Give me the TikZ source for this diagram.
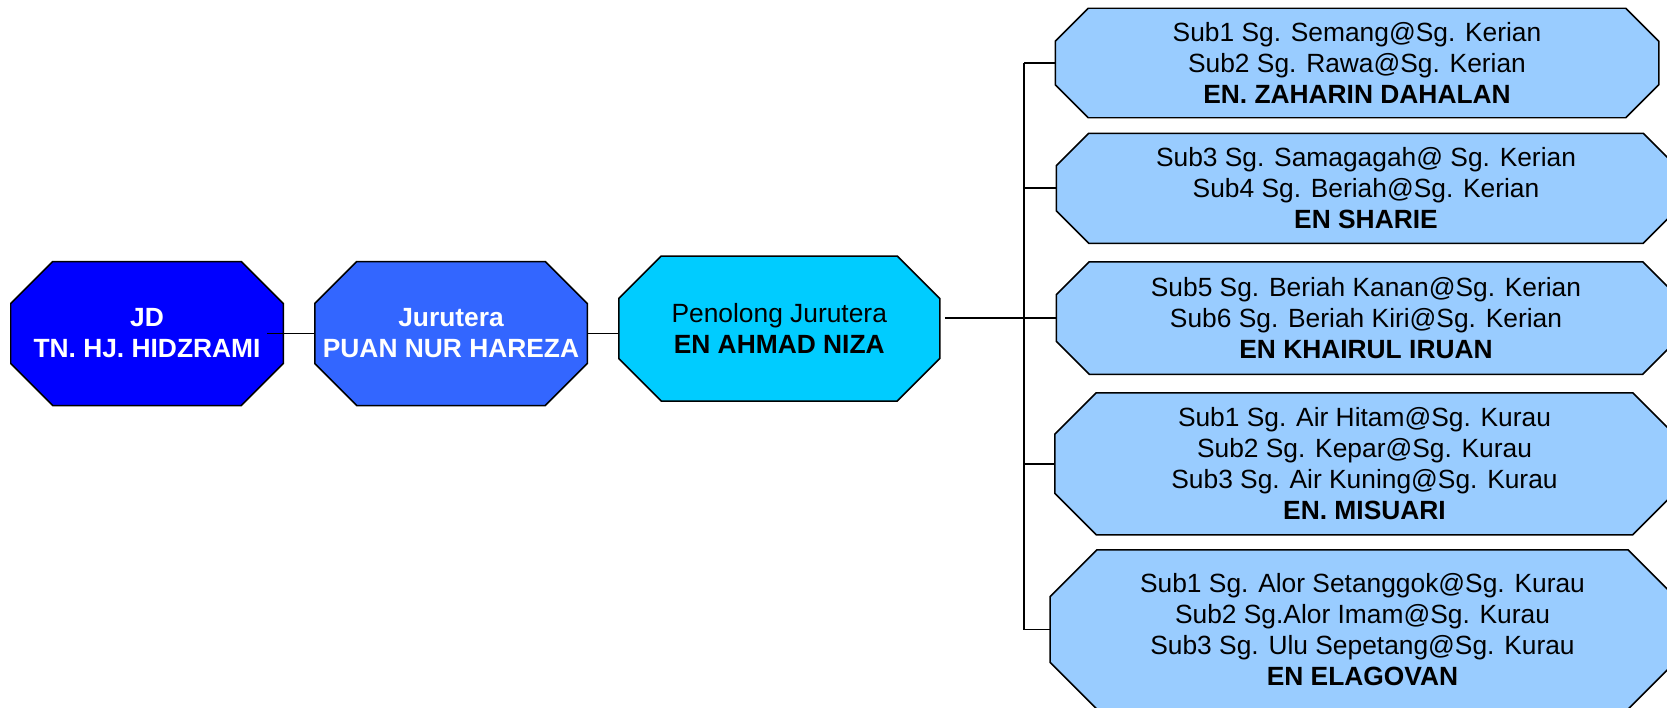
\documentclass[tikz,border=0pt]{standalone}
\usepackage{fontspec}
\setsansfont{Liberation Sans}
\usetikzlibrary{positioning}
\usetikzlibrary{backgrounds}
\definecolor{jdblue}{HTML}{0000FF}
\definecolor{jurblue}{HTML}{3366FF}
\definecolor{pjblue}{HTML}{00CCFF}
\definecolor{subblue}{HTML}{99CCFF}

\begin{document}
\begin{tikzpicture}[draw=black, line width=1.1pt, node distance=0.63cm, font=\sffamily\fontsize{15}{17.6}\selectfont]
    \tikzstyle{octa}=[rectangle, align=center, inner sep=0pt, outer sep=0pt]
    \tikzstyle{lead}=[octa, minimum width=5.45cm, minimum height=2.88cm, text=white, font=\sffamily\bfseries\fontsize{15}{17.6}\selectfont]
    \tikzstyle{sub}=[octa, minimum width=12.39cm]

    \useasboundingbox (0,0) rectangle (33.34,-14.14);

    \node[lead] (JD) at (2.94,-6.67) {JD\\TN. HJ. HIDZRAMI};
    \node[lead, right=of JD] (Jur) {Jurutera\\PUAN NUR HAREZA};
    \node[octa, minimum width=6.42cm, minimum height=2.9cm, right=0.63cm of Jur, yshift=0.1cm] (PJ) {Penolong Jurutera\\\textbf{EN AHMAD NIZA}};

    \node[sub, minimum width=12.07cm, minimum height=2.19cm] (Zah) at (27.14,-1.26) {Sub1 Sg. Semang@Sg. Kerian\\Sub2 Sg. Rawa@Sg. Kerian\\\textbf{EN. ZAHARIN DAHALAN}};
    \node[sub, minimum height=2.2cm, below=0.31cm of Zah, xshift=0.18cm] (Sha) {Sub3 Sg. Samagagah@ Sg. Kerian\\Sub4 Sg. Beriah@Sg. Kerian\\\textbf{EN SHARIE}};
    \node[sub, minimum height=2.25cm, below=0.37cm of Sha] (Kha) {Sub5 Sg. Beriah Kanan@Sg. Kerian\\Sub6 Sg. Beriah Kiri@Sg. Kerian\\\textbf{EN KHAIRUL IRUAN}};
    \node[sub, minimum height=2.84cm, below=0.37cm of Kha, xshift=-0.03cm] (Mis) {Sub1 Sg. Air Hitam@Sg. Kurau\\Sub2 Sg. Kepar@Sg. Kurau\\Sub3 Sg. Air Kuning@Sg. Kurau\\\textbf{EN. MISUARI}};
    \node[sub, minimum width=12.5cm, minimum height=3.19cm, below=0.3cm of Mis, xshift=-0.04cm] (Ela) {Sub1 Sg. Alor Setanggok@Sg. Kurau\\Sub2 Sg.Alor Imam@Sg. Kurau\\Sub3 Sg. Ulu Sepetang@Sg. Kurau\\\textbf{EN ELAGOVAN}};
    \coordinate (bus) at (20.48,0);

    % octagon outlines behind the text
    \begin{scope}[on background layer]
        \foreach \n/\c/\col in {JD/0.84/jdblue, Jur/0.84/jurblue, PJ/0.85/pjblue, Zah/0.66/subblue, Sha/0.65/subblue, Kha/0.66/subblue, Mis/0.83/subblue, Ela/0.94/subblue}
            \filldraw[fill=\col, line width=0.85pt] ([xshift=\c cm]\n.north west) -- ([xshift=-\c cm]\n.north east) -- ([yshift=-\c cm]\n.north east) -- ([yshift=\c cm]\n.south east) -- ([xshift=-\c cm]\n.south east) -- ([xshift=\c cm]\n.south west) -- ([yshift=\c cm]\n.south west) -- ([yshift=-\c cm]\n.north west) -- cycle;
    \end{scope}

    \draw ([xshift=-0.32cm]JD.east) -- (Jur.west);
    \draw (Jur.east) -- (Jur.east -| PJ.west);
    \draw ([xshift=0.1cm]PJ.east |- Kha.west) -- (Kha.west);
    \draw (Zah.west -| bus) -- (Ela.west -| bus);
    \foreach \b in {Zah,Sha,Mis,Ela}
        \draw (\b.west -| bus) -- (\b.west);
\end{tikzpicture}
\end{document}
